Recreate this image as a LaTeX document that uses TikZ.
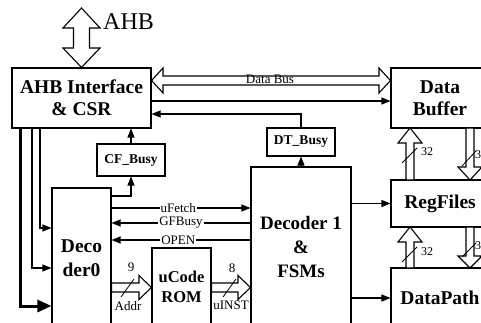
\documentclass[tikz,border=0pt]{standalone}
\usepackage{fontspec}
\setmainfont{Liberation Serif}
\usetikzlibrary{arrows.meta}
\begin{document}
\begin{tikzpicture}[x=1pt,y=-1pt,
  box/.style={draw,line width=1.1pt,inner sep=0pt,align=center,font=\bfseries\fontsize{19.5}{22}\selectfont},
  smallbox/.style={draw,line width=1.1pt,inner sep=0pt,align=center,font=\bfseries\fontsize{13.5}{15}\selectfont},
  conn/.style={line width=1.1pt,-{Triangle[length=9pt,width=7pt]}},
  thickconn/.style={line width=3pt,-{Triangle[length=14pt,width=12pt]}},
  hollow/.style={draw,line width=1.1pt,fill=white,line join=miter},
  sig/.style={font=\fontsize{13}{14}\selectfont,inner sep=1pt},
  siglab/.style={font=\fontsize{13}{14}\selectfont,inner sep=1pt,fill=white},
  buslab/.style={font=\fontsize{12}{13}\selectfont,inner sep=1pt},
  slash/.style={line width=0.8pt}]
\useasboundingbox (0,0) rectangle (481,323);
\clip (0,0) rectangle (481,323);
\fill[white] (0,0) rectangle (481,323);
% boxes
\node[box,minimum width=139pt,minimum height=60pt] (ahb) at (81.5,98) {AHB Interface\\\& CSR};
\node[box,minimum width=98pt,minimum height=60pt] (dbuf) at (440,98) {Data\\Buffer};
\node[box,minimum width=98pt,minimum height=47pt] (reg) at (440,203.5) {RegFiles};
\node[box,minimum width=98pt,minimum height=60pt] (dp) at (440,298) {DataPath};
\node[box,minimum width=59pt,minimum height=140pt,font=\bfseries\fontsize{19.5}{24}\selectfont] (dec0) at (81.5,258) {Deco\\der0};
\node[box,minimum width=100pt,minimum height=160pt,font=\bfseries\fontsize{19}{24}\selectfont] (dec1) at (301,247) {Decoder 1\\\&\\FSMs};
\node[box,minimum width=59pt,minimum height=78pt,font=\bfseries\fontsize{16.5}{20}\selectfont] (rom) at (181.5,287) {uCode\\ROM};
\node[smallbox,minimum width=68pt,minimum height=32pt] (cf) at (131,160) {CF\_Busy};
\node[smallbox,minimum width=68pt,minimum height=28pt] (dt) at (301,142) {DT\_Busy};
% AHB bus arrow
\coordinate (ahbtop) at (81.5,8);
\draw[hollow] (ahbtop) -- (100,28) -- (89.5,28) -- (89.5,48) -- (100,48) -- (ahb.north) -- (63,48) -- (73.5,48) -- (73.5,28) -- (63,28) -- cycle;
\node[font=\fontsize{24}{25}\selectfont,anchor=west,inner sep=0pt] (ahblab) at (103,22) {AHB};
% Data bus
\draw[hollow] (ahb.east |- 0,80.5) -- (163,68) -- (163,76) -- (379,76) -- (379,68) -- (dbuf.west |- 0,80.5) -- (379,93) -- (379,85) -- (163,85) -- (163,93) -- cycle;
\node[sig] (dblab) at (270,79) {Data Bus};
% single lines between AHB and Data Buffer
\draw[conn] (ahb.east |- 0,101) -- (dbuf.west |- 0,101);
\coordinate (dtup) at (301,114);
\draw[conn] (dt.north) -- (dtup) -- (ahb.east |- dtup);
\draw[conn] (dec1.north) -- (dt.south);
% CF_Busy
\draw[conn] (cf.north) -- (ahb.south -| cf.north);
\coordinate (cfc) at (131,196);
\draw[conn] (dec0.east |- cfc) -- (cfc) -- (cf.south);
% AHB to Decoder0
\coordinate (l1) at (20,128);
\coordinate (l1b) at (20,306);
\draw[thickconn] (l1) -- (l1b) -- (dec0.west |- l1b);
\coordinate (l2) at (32,128);
\coordinate (l2b) at (32,268);
\draw[conn] (l2) -- (l2b) -- (dec0.west |- l2b);
\coordinate (l3) at (40,128);
\coordinate (l3b) at (40,228);
\draw[conn] (l3) -- (l3b) -- (dec0.west |- l3b);
% Decoder0 <-> Decoder1
\draw[conn] (dec0.east |- 0,208) -- node[siglab,pos=0.48] (uf) {uFetch} (dec1.west |- 0,208);
\draw[conn] (dec1.west |- 0,223) -- node[siglab,pos=0.5] (gf) {GFBusy} (dec0.east |- 0,223);
\draw[conn] (dec1.west |- 0,240) -- node[siglab,pos=0.52] (op) {OPEN} (dec0.east |- 0,240);
% Addr arrow
\draw[hollow] (dec0.east |- 0,283) -- (139,283) -- (139,275.5) -- (rom.west |- 0,287.5) -- (139,299.5) -- (139,292) -- (dec0.east |- 0,292) -- cycle;
\draw[slash] (121,297) -- (134,279);
\node[sig] (nine) at (131,267) {9};
\node[sig] (addr) at (128,306) {Addr};
% uINST arrow
\draw[hollow] (rom.east |- 0,283) -- (238,283) -- (238,275.5) -- (dec1.west |- 0,287.5) -- (238,299.5) -- (238,292) -- (rom.east |- 0,292) -- cycle;
\draw[slash] (223,297) -- (236,279);
\node[sig] (eight) at (232,268) {8};
\node[sig] (uinst) at (231,305) {uINST};
% Decoder1 to RegFiles / DataPath
\draw[conn] (dec1.east |- reg.west) -- (reg.west);
\draw[conn] (dec1.east |- dp.west) -- (dp.west);
% vertical hollow arrows between Data Buffer and RegFiles
\draw[hollow] (410,128) -- (422,143) -- (414,143) -- (414,180) -- (406,180) -- (406,143) -- (398,143) -- cycle;
\draw[slash] (402,163) -- (417,148);
\node[buslab] (n32a) at (427,152) {32};
\draw[hollow] (466,128) -- (474,128) -- (474,167) -- (482,167) -- (470,180) -- (458,167) -- (466,167) -- cycle;
\draw[slash] (462,166) -- (476,151);
\node[buslab,anchor=west,inner sep=0pt] (n32b) at (475,155) {32};
% between RegFiles and DataPath
\draw[hollow] (410,227) -- (422,242) -- (414,242) -- (414,268) -- (406,268) -- (406,242) -- (398,242) -- cycle;
\draw[slash] (402,262) -- (417,247);
\node[buslab] (n32c) at (427,252) {32};
\draw[hollow] (466,227) -- (474,227) -- (474,256) -- (482,256) -- (470,268) -- (458,256) -- (466,256) -- cycle;
\draw[slash] (462,257) -- (476,243);
\node[buslab,anchor=west,inner sep=0pt] (n32d) at (475,246) {32};
\end{tikzpicture}
\end{document}
